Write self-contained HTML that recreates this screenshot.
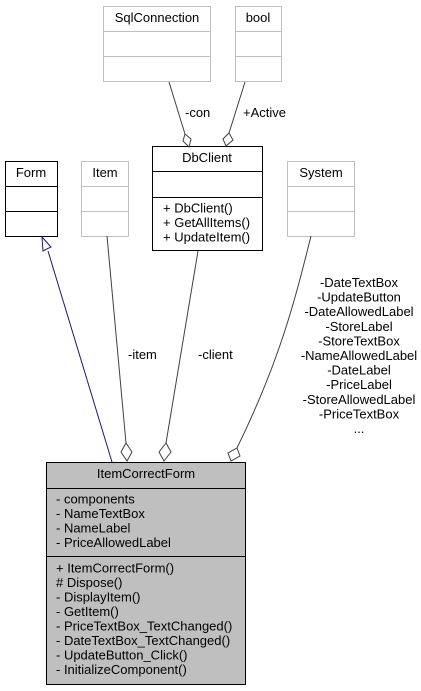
<!DOCTYPE html>
<html><head><meta charset="utf-8"><style>
html,body{margin:0;padding:0;background:#fff;}
svg{display:block;}
text{font-family:"Liberation Sans",Arial,sans-serif;font-size:13px;fill:#000;}
</style></head><body>
<svg width="421" height="691" viewBox="0 0 421 691" xmlns="http://www.w3.org/2000/svg">
<g fill="#fff" stroke="#bfbfbf" stroke-width="1">
<rect x="103.5" y="6.5" width="107" height="75"/>
<line x1="103.5" y1="31.5" x2="210.5" y2="31.5"/>
<line x1="103.5" y1="56.5" x2="210.5" y2="56.5"/>
<rect x="235.5" y="6.5" width="46" height="75"/>
<line x1="235.5" y1="31.5" x2="281.5" y2="31.5"/>
<line x1="235.5" y1="56.5" x2="281.5" y2="56.5"/>
<rect x="81.5" y="161.5" width="47" height="75"/>
<line x1="81.5" y1="186.5" x2="128.5" y2="186.5"/>
<line x1="81.5" y1="211.5" x2="128.5" y2="211.5"/>
<rect x="287.5" y="161.5" width="67" height="75"/>
<line x1="287.5" y1="186.5" x2="354.5" y2="186.5"/>
<line x1="287.5" y1="211.5" x2="354.5" y2="211.5"/>
</g>
<text x="157" y="22" text-anchor="middle">SqlConnection</text>
<text x="258" y="22" text-anchor="middle">bool</text>
<text x="105" y="177" text-anchor="middle">Item</text>
<text x="321" y="177" text-anchor="middle">System</text>
<g fill="#fff" stroke="#000" stroke-width="1">
<rect x="5.5" y="161.5" width="52" height="75"/>
<line x1="5.5" y1="186.5" x2="57.5" y2="186.5"/>
<line x1="5.5" y1="211.5" x2="57.5" y2="211.5"/>
<rect x="152.5" y="146.5" width="110" height="104"/>
<line x1="152.5" y1="171.5" x2="262.5" y2="171.5"/>
<line x1="152.5" y1="197.5" x2="262.5" y2="197.5"/>
</g>
<text x="31" y="177" text-anchor="middle">Form</text>
<text x="207" y="162" text-anchor="middle">DbClient</text>
<text x="163" y="212.5">+ DbClient()</text>
<text x="163" y="227">+ GetAllItems()</text>
<text x="163" y="241.5">+ UpdateItem()</text>
<g fill="none" stroke="#404040" stroke-width="1">
<line x1="169" y1="82" x2="185" y2="134"/>
<line x1="245" y1="82" x2="229" y2="133"/>
<line x1="107" y1="236" x2="126" y2="443"/>
<line x1="198" y1="251" x2="166" y2="443"/>
<path d="M311,236 C295,300 280,360 237,448"/>
</g>
<g fill="#fff" stroke="#404040" stroke-width="1">
<polygon points="185,134 191,139 189,147 183,141"/>
<polygon points="229,133 233,140 226,146 223,139"/>
<polygon points="126,443 132,452 127,461 121,452"/>
<polygon points="166,443 171,452 164,461 159,452"/>
<polygon points="237,448 240,456 231,461 228,453"/>
</g>
<line x1="48" y1="251" x2="112" y2="462" stroke="#191970" stroke-width="1"/>
<polygon points="42,237 51,247 43,251" fill="#fff" stroke="#191970" stroke-width="1"/>
<text x="185" y="117">-con</text>
<text x="243" y="117">+Active</text>
<text x="128" y="359">-item</text>
<text x="198" y="359">-client</text>
<g text-anchor="middle">
<text x="359" y="287">-DateTextBox</text>
<text x="359" y="301.6">-UpdateButton</text>
<text x="359" y="316.2">-DateAllowedLabel</text>
<text x="359" y="330.8">-StoreLabel</text>
<text x="359" y="345.4">-StoreTextBox</text>
<text x="359" y="360">-NameAllowedLabel</text>
<text x="359" y="374.6">-DateLabel</text>
<text x="359" y="389.2">-PriceLabel</text>
<text x="359" y="403.8">-StoreAllowedLabel</text>
<text x="359" y="418.4">-PriceTextBox</text>
<text x="359" y="433">...</text>
</g>
<g fill="#bfbfbf" stroke="#000" stroke-width="1">
<rect x="46.5" y="462.5" width="199" height="222"/>
<line x1="46.5" y1="488.5" x2="245.5" y2="488.5"/>
<line x1="46.5" y1="556.5" x2="245.5" y2="556.5"/>
</g>
<text x="146" y="478" text-anchor="middle">ItemCorrectForm</text>
<text x="56" y="503.5">- components</text>
<text x="56" y="518">- NameTextBox</text>
<text x="56" y="532.5">- NameLabel</text>
<text x="56" y="547">- PriceAllowedLabel</text>
<text x="56" y="572.5">+ ItemCorrectForm()</text>
<text x="56" y="587"># Dispose()</text>
<text x="56" y="601.5">- DisplayItem()</text>
<text x="56" y="616">- GetItem()</text>
<text x="56" y="630.5">- PriceTextBox_TextChanged()</text>
<text x="56" y="645">- DateTextBox_TextChanged()</text>
<text x="56" y="659.5">- UpdateButton_Click()</text>
<text x="56" y="674">- InitializeComponent()</text>
</svg>
</body></html>
